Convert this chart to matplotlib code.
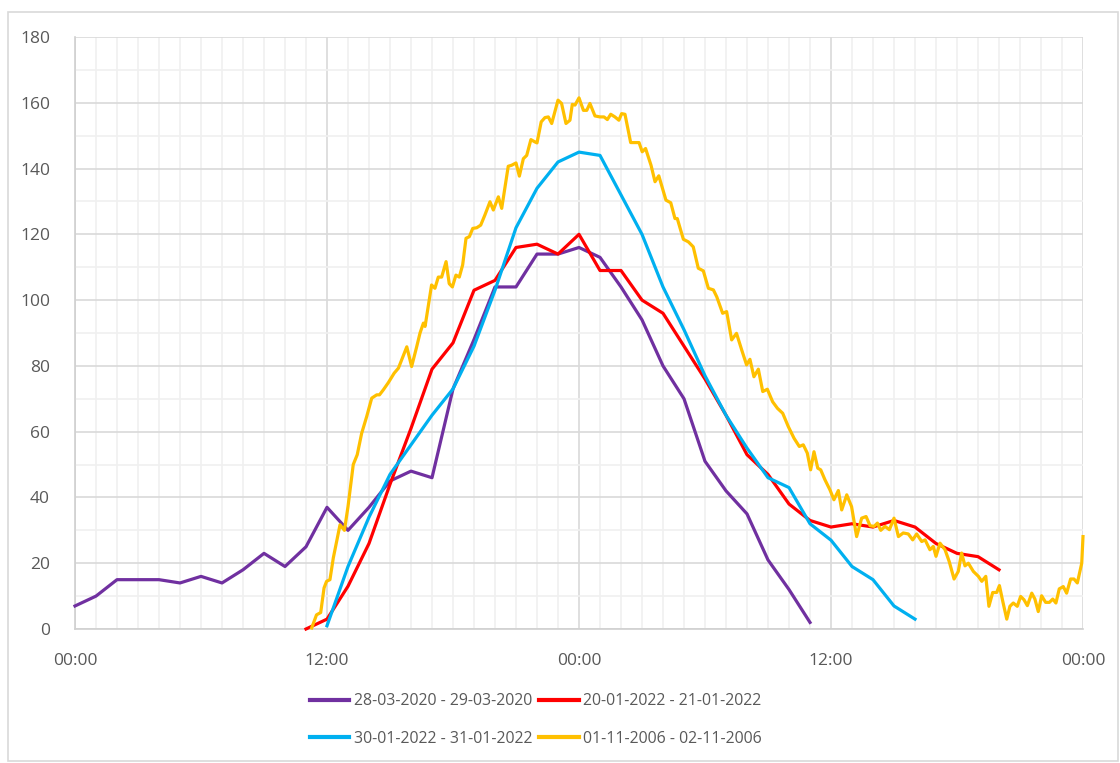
import matplotlib
matplotlib.use("Agg")
import matplotlib.pyplot as plt
from matplotlib.ticker import MultipleLocator, FixedLocator
from matplotlib.patches import Rectangle

plt.rcParams['font.family'] = ['Open Sans', 'DejaVu Sans']

# ---- data ----
x_tick_hours = [0, 12, 24, 36, 48]
x_tick_labels = ["00:00", "12:00", "00:00", "12:00", "00:00"]

labels = ["28-03-2020 - 29-03-2020", "20-01-2022 - 21-01-2022",
          "30-01-2022 - 31-01-2022", "01-11-2006 - 02-11-2006"]
colors = ["#7030A0", "#FF0000", "#00B0F0", "#FFC000"]

purple_start = 0
purple_vals = [7, 10, 15, 15, 15, 14, 16, 14, 18, 23, 19, 25, 37, 30, 37, 45, 48, 46,
               73, 88, 104, 104, 114, 114, 116, 113, 104, 94, 80, 70, 51, 42, 35, 21, 12, 2]

red_start = 11
red_vals = [0, 3, 13, 26, 44, 61, 79, 87, 103, 106, 116, 117, 114, 120, 109, 109, 100, 96,
            86, 76, 65, 53, 47, 38, 33, 31, 32, 31, 33, 31, 26, 23, 22, 18]

cyan_start = 12
cyan_vals = [1, 19, 34, 47, 56, 65, 73, 86, 103, 122, 134, 142, 145, 144, 132, 120, 104,
             91, 77, 65, 55, 46, 43, 32, 27, 19, 15, 7, 3]

yellow_t = [11.27, 11.5, 11.7, 11.86, 11.98, 12.14, 12.3, 12.46, 12.62, 12.83, 13.0, 13.25,
            13.44, 13.65, 13.89, 14.13, 14.37, 14.5, 14.68, 14.92, 15.2, 15.4, 15.8, 16.03,
            16.27, 16.43, 16.59, 16.67, 16.98, 17.14, 17.3, 17.46, 17.67, 17.82, 17.97, 18.14,
            18.3, 18.46, 18.62, 18.78, 18.94, 19.13, 19.32, 19.52, 19.76, 19.92, 20.16, 20.32,
            20.63, 20.79, 21.0, 21.16, 21.35, 21.51, 21.71, 21.9, 22.0, 22.2, 22.38, 22.54,
            22.7, 23.0, 23.17, 23.38, 23.57, 23.68, 23.81, 24.0, 24.21, 24.37, 24.52, 24.76,
            25.0, 25.19, 25.35, 25.51, 25.71, 25.9, 26.03, 26.19, 26.46, 26.67, 26.86, 27.01,
            27.17, 27.43, 27.62, 27.8, 28.14, 28.37, 28.57, 28.68, 28.97, 29.21, 29.44, 29.68,
            29.92, 30.16, 30.4, 30.56, 30.84, 31.03, 31.27, 31.5, 31.75, 31.98, 32.14, 32.33,
            32.54, 32.75, 32.97, 33.22, 33.45, 33.7, 33.97, 34.24, 34.49, 34.68, 34.87, 35.03,
            35.19, 35.37, 35.51, 35.71, 35.95, 36.14, 36.35, 36.51, 36.75, 36.98, 37.22, 37.46,
            37.67, 37.86, 38.05, 38.21, 38.37, 38.57, 38.78, 39.0, 39.21, 39.44, 39.68, 39.89,
            40.08, 40.32, 40.48, 40.71, 40.87, 41.0, 41.19, 41.43, 41.63, 41.86, 42.06, 42.22,
            42.38, 42.54, 42.78, 43.02, 43.18, 43.37, 43.52, 43.7, 43.89, 44.02, 44.18, 44.37,
            44.52, 44.68, 44.87, 45.03, 45.19, 45.35, 45.56, 45.71, 45.87, 46.03, 46.22, 46.4,
            46.56, 46.71, 46.87, 47.06, 47.22, 47.41, 47.57, 47.73, 47.94, 48.0]
yellow_vals = [0.3, 4.3, 5, 12.5, 14.5, 15, 21.6, 26.6, 31.7, 30, 37.2, 50,
               53, 59.5, 64.6, 70.2, 71.2, 71.2, 72.7, 74.9, 77.8, 79.3, 85.8, 79.8,
               85.8, 90, 93, 92, 104.6, 103.6, 107, 107, 111.7, 105, 104, 107.6,
               107, 110.7, 118.8, 119.3, 121.8, 122, 122.8, 125.9, 129.9, 127.4, 131.4, 127.9,
               140.7, 141, 141.7, 137.7, 143, 144, 148.8, 148.1, 147.8, 154.2, 155.5, 155.7,
               153.7, 160.8, 159.8, 153.7, 154.7, 159.5, 159.3, 161.5, 157.7, 157.7, 159.8, 156,
               155.7, 155.7, 154.9, 156.5, 155.7, 154.7, 156.7, 156.5, 147.9, 147.9, 147.9, 145.1,
               146.1, 141, 136, 137.8, 130.4, 129.6, 124.8, 124.8, 118.5, 117.7, 116.2, 109.7,
               108.9, 103.6, 103.1, 101, 96, 96.5, 87.9, 89.9, 84.8, 80.3, 82, 76.7,
               79, 72.2, 72.9, 69.1, 67.1, 65.6, 61.5, 58, 55.5, 56, 53.5, 48.4,
               53.9, 48.9, 48.4, 45.4, 42.3, 39.3, 42.1, 36.2, 40.8, 37.2, 28.1, 33.7,
               34.2, 31.4, 31.2, 32.2, 30, 31.2, 30.2, 33.7, 28.1, 29.2, 28.9, 27.1,
               28.9, 26.6, 27.1, 24.1, 25.1, 22.1, 26.1, 24.1, 20.5, 15.2, 17.5, 23.1,
               19.2, 20, 17.5, 16, 14.5, 16, 6.9, 11.1, 11.1, 13.2, 8.4, 3,
               6.9, 7.9, 6.9, 9.9, 8.9, 7.1, 10.9, 9.1, 5.3, 10.1, 8.1, 8.1,
               9.1, 7.9, 12.2, 12.9, 10.9, 15.2, 15.2, 14, 20, 28.1]

# ---- figure ----
W, H = 1120, 763
fig = plt.figure(figsize=(W / 100, H / 100), dpi=100)
fig.patches.append(Rectangle((8 / W, 1 - 761 / H), 1110 / W, 749 / H, transform=fig.transFigure,
                             fill=False, edgecolor="#D9D9D9", linewidth=1.2))
ax = fig.add_axes([75 / W, 1 - 629 / H, (1083 - 75) / W, (629 - 37) / H])

lw = 2.3
series = [
    ([purple_start + i for i in range(len(purple_vals))], purple_vals),
    ([red_start + i for i in range(len(red_vals))], red_vals),
    ([cyan_start + i for i in range(len(cyan_vals))], cyan_vals),
    (yellow_t, yellow_vals),
]
handles = []
for k, (xs, ys) in enumerate(series):
    ln, = ax.plot(xs, ys, color=colors[k], lw=lw, label=labels[k], clip_on=False,
                  solid_joinstyle='round', zorder=3 + k * 0.1)
    handles.append(ln)

ax.set_xlim(0, 48)
ax.set_ylim(0, 180)
ax.xaxis.set_major_locator(FixedLocator(x_tick_hours))
ax.set_xticklabels(x_tick_labels)
ax.xaxis.set_minor_locator(MultipleLocator(1))
ax.yaxis.set_major_locator(MultipleLocator(20))
ax.yaxis.set_minor_locator(MultipleLocator(10))
ax.grid(which='major', color='#D9D9D9', lw=1.2, zorder=0)
ax.grid(which='minor', color='#F0F0F0', lw=1.2, zorder=0)
ax.set_axisbelow(True)
for s in ['top', 'right']:
    ax.spines[s].set_visible(False)
for s in ['left', 'bottom']:
    ax.spines[s].set_color('#D0D0D0')
    ax.spines[s].set_linewidth(1.2)
ax.tick_params(which='both', length=0, colors='#595959', labelsize=12.5)
ax.tick_params(axis='y', pad=18)
ax.tick_params(axis='x', pad=17)

# legend is filled column by column; order gives rows (purple, red) / (cyan, yellow)
leg_order = [0, 2, 1, 3]
leg = fig.legend([handles[i] for i in leg_order], [labels[i] for i in leg_order], ncol=2,
                 loc='center', bbox_to_anchor=(536 / W, 1 - 720 / H), frameon=False,
                 fontsize=11.4, handlelength=2.5, handletextpad=0.3, columnspacing=0.4,
                 labelspacing=1.35, labelcolor='#595959')
for l in leg.get_lines():
    l.set_linewidth(3)

fig.savefig("out.png", dpi=100)
